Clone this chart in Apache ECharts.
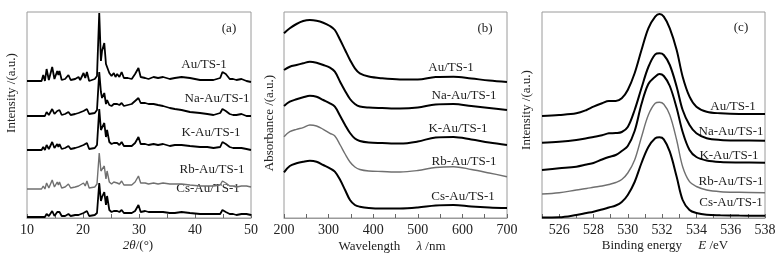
<!DOCTYPE html>
<html>
<head>
<meta charset="utf-8">
<script src="https://cdn.jsdelivr.net/npm/echarts@6/dist/echarts.min.js"></script>
<style>
  html, body { margin: 0; background: #fff; }
  #chart { width: 781px; height: 259px; }
</style>
</head>
<body>
<div id="chart"></div>
<script>
// sample names, top to bottom
var samples = ['Au/TS-1', 'Na-Au/TS-1', 'K-Au/TS-1', 'Rb-Au/TS-1', 'Cs-Au/TS-1'];

// (a) XRD, 2theta vertices and peak heights above each baseline
var twoTheta = [10, 12.6, 12.9, 13.2, 13.5, 13.9, 14.5, 14.9, 15.4, 15.6, 15.8, 16.2, 16.8, 17.4, 17.8, 18.6, 19.2, 19.5, 20.1, 20.4, 20.7, 21.1, 22.1, 22.5,
  22.9, 23.2, 23.4, 23.8, 24.1, 24.3, 24.7, 25.1, 25.5, 25.8, 26.1, 26.5, 26.9, 27.3, 28.0, 28.7, 29.3, 29.5, 29.9, 30.3, 31.1, 31.7, 32.6, 33.4,
  34.3, 35.5, 36.4, 37.6, 39.1, 40.9, 42.2, 43.3, 44.5, 44.9, 45.2, 45.5, 45.8, 46.2, 46.8, 47.4, 48.3, 49.2, 50];
var xrdAu = [0, 0, 6, 0, 12, 1, 14, 2, 10, 6, 10, 1, 2, 6, 1, 2, 4, 1, 8, 3, 9, 0, 2, 5,
  68, 20, 30, 38, 17, 18, 8, 5, 8, 4, 7, 4, 9, 3, 3, 2, 7, 5, 13, 4, 3, 2, 4, 3,
  4, 2, 3, 4, 3, 1, 1, 1, 3, 9, 10, 7, 8, 2, 2, 1, 2, 0, -1];
var xrdNa = [0, 0, 2, 0, 4, 1, 7, 2, 5, 3, 6, 1, 2, 4, 1, 2, 3, 2, 5, 3, 7, 2, 3, 6,
  44, 24, 18, 23, 12, 16, 11, 10, 12, 10, 12, 11, 13, 10, 11, 12, 15, 14, 18, 13, 13, 12, 12, 11,
  10, 8, 7, 6, 4, 3, 2, 1, 3, 7, 8, 5, 6, 2, 1, 1, 2, 0, 0];
var xrdK = [0, 0, 3, 0, 5, 1, 8, 2, 6, 3, 6, 1, 2, 4, 1, 2, 3, 1, 5, 3, 7, 1, 2, 5,
  41, 20, 22, 27, 13, 20, 8, 6, 7, 5, 7, 5, 8, 4, 4, 4, 7, 6, 13, 6, 6, 5, 6, 5,
  6, 4, 5, 5, 4, 3, 3, 2, 3, 8, 9, 6, 7, 3, 2, 2, 2, 1, 0];
var xrdRb = [0, 0, 3, 0, 6, 1, 9, 2, 7, 4, 7, 1, 2, 5, 1, 2, 3, 2, 6, 3, 8, 1, 2, 5,
  36, 18, 19, 23, 10, 18, 7, 5, 7, 5, 6, 5, 8, 4, 4, 4, 7, 6, 13, 6, 6, 5, 6, 5,
  6, 5, 5, 5, 4, 3, 3, 3, 4, 8, 9, 6, 7, 3, 3, 2, 3, 3, 2];
var xrdCs = [0, 0, 2, 0, 3, 1, 6, 1, 5, 3, 5, 1, 1, 3, 1, 2, 2, 1, 4, 2, 6, 1, 2, 4,
  34, 16, 20, 25, 12, 21, 7, 5, 6, 5, 6, 5, 7, 4, 4, 4, 6, 5, 12, 5, 6, 5, 5, 5,
  5, 4, 4, 5, 4, 3, 3, 3, 3, 7, 8, 5, 6, 3, 3, 2, 3, 3, 2];
var xrdOffsets = [137, 102, 68, 29, 1];

// (b) UV-vis absorbance
var wavelength = [200, 213, 228, 243, 258, 273, 288, 303, 314, 326, 337, 348, 359, 370, 390, 420, 460, 500, 540, 580, 620, 660, 700];
var uvAu = [184.7, 189.7, 194, 197, 198, 197.3, 195.3, 192, 188, 178, 168, 158, 149.7, 144.7, 141.5, 139.7, 138.5, 138.4, 141, 141.3, 139.5, 137.5, 136];
var uvNa = [148, 151.3, 153, 154.7, 156.3, 155.3, 153, 150.3, 146.3, 136, 127, 119, 114, 111.5, 110.5, 110, 109.5, 110.5, 113.5, 114, 112, 110, 108];
var uvK = [112, 116.3, 118.7, 120.7, 122.3, 121.3, 118, 114.7, 111.3, 102, 93, 85, 79.5, 77, 75.5, 75, 74.5, 76.5, 80.5, 81, 78.5, 75.5, 73];
var uvRb = [81.3, 86.3, 88.7, 90.3, 93, 92, 88.7, 84.7, 82, 73, 64, 56, 51, 48.5, 47, 46.5, 46, 47.5, 50.5, 51.3, 48.5, 45, 41.3];
var uvCs = [45.7, 52, 54.7, 56.3, 57.3, 56.3, 53, 49.7, 46.3, 38, 28, 18, 13, 11.3, 10, 9.5, 9.5, 10.5, 12.5, 13, 11.5, 10.5, 10];

// (c) XPS O 1s
var bindingE = [525, 526, 527, 527.6, 528.0, 528.5, 528.9, 529.3, 529.65, 530.0, 530.4, 530.8, 531.2, 531.6, 531.85, 532.1, 532.45, 532.85, 533.2, 533.6, 534.0, 534.6, 535.4, 536.5, 538];
var xpsAu = [102, 103, 104.7, 108, 111.3, 114.7, 117, 117, 119.7, 128, 144.7, 168, 189.7, 201.3, 204, 201.3, 189.7, 168, 141.3, 121.3, 111.3, 106.3, 104.7, 104, 104];
var xpsNa = [75.3, 76.3, 78, 79.7, 81, 82.7, 84.7, 85, 86, 91, 108, 130, 151, 163.7, 164.7, 163, 153, 131.3, 108, 93, 84.7, 79.7, 78, 77.5, 77.3];
var xpsK = [48, 49.7, 51.3, 53.5, 55, 58.5, 61, 63, 67, 72, 87, 114, 134, 141.3, 144, 142, 132, 110, 86, 68, 61, 57.5, 56, 55.5, 55.3];
var xpsRb = [24, 25.2, 28, 29.5, 30.7, 32, 33.5, 35.5, 38.5, 45, 58, 81, 103, 114.7, 115.7, 113.7, 103, 78, 51.3, 36.3, 31.5, 28, 26.3, 25.7, 25.3];
var xpsCs = [0.5, 0.7, 3, 5, 6.3, 8.5, 10.5, 12.5, 16, 23, 36, 55, 71, 79.7, 80.7, 78.7, 66.3, 41.3, 18, 8, 5, 3.2, 2.7, 2.4, 2.3];

var FONT = "'Liberation Serif', 'Times New Roman', serif";
var lineColors = ['#000', '#000', '#000', '#707070', '#000'];

function pairs(xs, ys, off) {
  var out = [];
  for (var i = 0; i < xs.length; i++) out.push([xs[i], ys[i] + (off || 0)]);
  return out;
}

var myChart = echarts.init(document.getElementById('chart'));

var grids = [
  { left: 27, top: 12, width: 224, height: 206 },
  { left: 284, top: 12, width: 223, height: 206 },
  { left: 542, top: 12, width: 223, height: 206 }
];
grids.forEach(function (g) { g.show = true; g.borderColor = '#9a9a9a'; g.borderWidth = 1; });

function xAxisFor(idx, min, max, interval, minorSplit, fmt) {
  return {
    type: 'value', gridIndex: idx, min: min, max: max, interval: interval,
    axisLine: { show: true, lineStyle: { color: '#9a9a9a' } },
    axisTick: { show: true, inside: true, length: 4, lineStyle: { color: '#666' } },
    minorTick: { show: minorSplit > 0, splitNumber: minorSplit || 5, length: 4, lineStyle: { color: '#666' } },
    splitLine: { show: false },
    axisLabel: { color: '#222', fontFamily: FONT, fontSize: 14, margin: 5, formatter: fmt, showMinLabel: true, showMaxLabel: true }
  };
}
function yAxisFor(idx) {
  return {
    type: 'value', gridIndex: idx, min: 0, max: 206,
    axisLine: { show: false }, axisTick: { show: false }, axisLabel: { show: false }, splitLine: { show: false }
  };
}

var xrdSets = [xrdAu, xrdNa, xrdK, xrdRb, xrdCs];
var uvSets = [uvAu, uvNa, uvK, uvRb, uvCs];
var xpsSets = [xpsAu, xpsNa, xpsK, xpsRb, xpsCs];

var series = [];
samples.forEach(function (name, i) {
  series.push({
    name: name + ' XRD', type: 'line', xAxisIndex: 0, yAxisIndex: 0, showSymbol: false,
    data: pairs(twoTheta, xrdSets[i], xrdOffsets[i]),
    lineStyle: { color: lineColors[i], width: i === 3 ? 1.4 : 1.8 }
  });
  series.push({
    name: name + ' UV', type: 'line', xAxisIndex: 1, yAxisIndex: 1, showSymbol: false, smooth: 0.35,
    data: pairs(wavelength, uvSets[i]),
    lineStyle: { color: lineColors[i], width: i === 3 ? 1.4 : 2 }
  });
  series.push({
    name: name + ' XPS', type: 'line', xAxisIndex: 2, yAxisIndex: 2, showSymbol: false, smooth: 0.35,
    data: pairs(bindingE, xpsSets[i]),
    lineStyle: { color: lineColors[i], width: i === 3 ? 1.4 : 2 }
  });
});

function txt(x, y, text, extra) {
  var s = { text: text, x: 0, y: 0, font: '13px ' + FONT, fill: '#222', align: 'center', verticalAlign: 'middle' };
  if (extra && extra.rich) s.rich = extra.rich;
  return { type: 'text', x: x, y: y, rotation: extra && extra.rot ? extra.rot : 0, style: s, silent: true };
}
var italic = { i: { fontStyle: 'italic', fontFamily: FONT, fontSize: 13, fill: '#222' } };

var labelPos = {
  a: [[204, 65], [217, 99], [211, 133], [212, 170], [208, 189]],
  b: [[451, 68], [464, 96], [458, 129], [464, 162], [463, 197]],
  c: [[733, 107], [731, 132], [729, 156], [731, 182], [731, 203]]
};
var graphics = [
  txt(229, 29, '(a)'), txt(485, 29, '(b)'), txt(741, 28, '(c)'),
  txt(12, 93, 'Intensity /(a.u.)', { rot: Math.PI / 2 }),
  txt(270, 123, 'Absorbance /(a.u.)', { rot: Math.PI / 2 }),
  txt(527, 110, 'Intensity /(a.u.)', { rot: Math.PI / 2 }),
  txt(138, 246, '{i|2θ}/(°)', { rich: italic }),
  txt(392, 247, 'Wavelength     {i|λ} /nm', { rich: italic }),
  txt(665, 246, 'Binding energy     {i|E} /eV', { rich: italic })
];
['a', 'b', 'c'].forEach(function (k) {
  labelPos[k].forEach(function (p, i) { graphics.push(txt(p[0], p[1], samples[i])); });
});

var option = {
  backgroundColor: '#fff',
  animation: false,
  grid: grids,
  xAxis: [
    xAxisFor(0, 10, 50, 10, 2),
    xAxisFor(1, 200, 700, 100, 2),
    xAxisFor(2, 525, 538, 1, 0, function (v) { return v % 2 === 0 ? String(v) : ''; })
  ],
  yAxis: [yAxisFor(0), yAxisFor(1), yAxisFor(2)],
  series: series,
  graphic: graphics
};
myChart.setOption(option);
</script>
</body>
</html>
